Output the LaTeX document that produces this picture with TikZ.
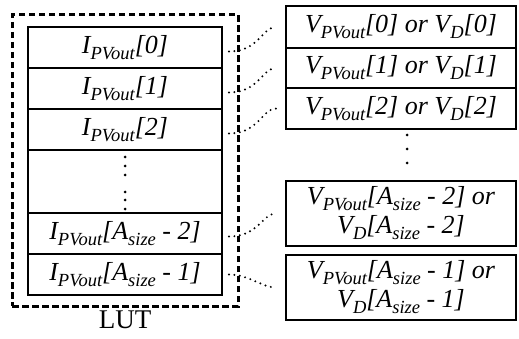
\documentclass[tikz,border=0pt]{standalone}
\usepackage{fontspec}
\setmainfont{Liberation Serif}[ItalicFont={Liberation Serif Italic}]
\newcommand\sbs[1]{\raisebox{-0.5ex}{\fontsize{18.5}{18}\selectfont #1}}
\begin{document}
\begin{tikzpicture}[x=1pt,y=-1pt,
  cell/.style={draw,line width=1.8pt,minimum width=194pt,inner sep=0pt,font=\fontsize{26}{27}\selectfont\itshape},
  vcell/.style={draw,line width=1.8pt,minimum width=230pt,inner sep=0pt,align=center,font=\fontsize{26}{29}\selectfont\itshape},
  lutbox/.style={draw,line width=3pt,dash pattern=on 6.5pt off 3.5pt},
  link/.style={line width=2.2pt,dash pattern=on 0pt off 5.5pt,line cap=round},
  dot/.style={fill,circle,inner sep=0pt,minimum size=3pt}]
\useasboundingbox (0,0) rectangle (519,339);
% outer dashed LUT box
\node[lutbox,minimum width=226pt,minimum height=291pt,inner sep=0pt] (lut) at (125,160.5) {};
\node[font=\fontsize{27}{28}\selectfont] (lutl) at (125,320) {LUT};
% inner table
\node[cell,minimum height=41pt] (r0) at (125,47.5) {I\sbs{PVout}[0]};
\node[cell,minimum height=41pt] (r1) at (125,88.5) {I\sbs{PVout}[1]};
\node[cell,minimum height=41pt] (r2) at (125,129.5) {I\sbs{PVout}[2]};
\node[cell,minimum height=63pt] (rd) at (125,181.5) {};
\node[cell,minimum height=41pt] (r3) at (125,233.5) {I\sbs{PVout}[A\sbs{size} - 2]};
\node[cell,minimum height=41pt] (r4) at (125,274.5) {I\sbs{PVout}[A\sbs{size} - 1]};
\foreach \yy/\nm in {157/a,166/b,175/c,192/d,200/e,209/f}
  \node[dot] (d\nm) at (125,\yy) {};
% right table
\node[vcell,minimum height=42pt] (v0) at (401,27) {V\sbs{PVout}[0] or V\sbs{D}[0]};
\node[vcell,minimum height=40pt] (v1) at (401,68) {V\sbs{PVout}[1] or V\sbs{D}[1]};
\node[vcell,minimum height=41pt] (v2) at (401,108.5) {V\sbs{PVout}[2] or V\sbs{D}[2]};
\foreach \yy/\nm in {135/a,149/b,163/c}
  \node[dot] (e\nm) at (407,\yy) {};
\node[vcell,minimum height=65pt] (v3) at (401,213.5) {V\sbs{PVout}[A\sbs{size} - 2] or\\V\sbs{D}[A\sbs{size} - 2]};
\node[vcell,minimum height=65pt] (v4) at (401,287.5) {V\sbs{PVout}[A\sbs{size} - 1] or\\V\sbs{D}[A\sbs{size} - 1]};
% connectors
\draw[link] ([xshift=6pt,yshift=-4pt]r0.east) .. controls +(30,0) and +(-14,0) .. ([xshift=-9pt]v0.west);
\draw[link] ([xshift=6pt,yshift=-4pt]r1.east) .. controls +(30,0) and +(-14,0) .. ([xshift=-9pt]v1.west);
\draw[link] ([xshift=6pt,yshift=-4pt]r2.east) .. controls +(30,0) and +(-14,0) .. ([xshift=-9pt]v2.west);
\draw[link] ([xshift=6pt,yshift=-3pt]r3.east) .. controls +(30,0) and +(-14,0) .. ([xshift=-9pt]v3.west);
\draw[link] ([xshift=6pt]r4.east) .. controls +(20,0) and +(-14,0) .. ([xshift=-9pt]v4.west);
\end{tikzpicture}
\end{document}
